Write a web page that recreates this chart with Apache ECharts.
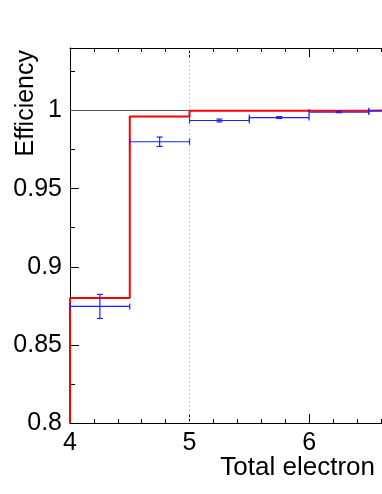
<!DOCTYPE html>
<html lang="en">
<head>
    <meta charset="UTF-8">
    <title>efficiency</title>
    <script src="https://cdn.jsdelivr.net/npm/echarts@6/dist/echarts.min.js"></script>
    <style>
        body { margin: 0; background: #fff; }
    </style>
</head>
<body>
<div id="chart_eff" style="width: 382px;height: 494px"></div>
<script>
    // bins of total electron count
    var binEdges = [4, 4.5, 5, 5.5, 6, 6.5, 7];
    // red histogram
    var redEff = [0.88, 0.9962, 0.9998, 0.9999, 0.9999, 1.0];
    // blue points with errors
    var blueEff = [0.8746, 0.980, 0.9936, 0.9955, 0.999, 0.9998];
    var blueErr = [0.0077, 0.003, 0.0009, 0.0006, 0.0004, 0.0002];
    var yTicks = ['0.8', '0.85', '0.9', '0.95', '1'];

    var yMin = 0.8, yMax = 1.04;
    var xMin = 4, xMax = 6.61;

    var redLine = [[binEdges[0], yMin]];
    for (var i = 0; i < redEff.length; i++) {
        redLine.push([binEdges[i], redEff[i]]);
    }
    redLine.push([binEdges[binEdges.length - 1], redEff[redEff.length - 1]]);

    var bluePts = [];
    for (var j = 0; j < blueEff.length; j++) {
        bluePts.push([binEdges[j], binEdges[j + 1], blueEff[j], blueErr[j]]);
    }

    function drawErr(params, api) {
        var x0 = api.value(0), x1 = api.value(1), y = api.value(2), e = api.value(3);
        var xm = (x0 + x1) / 2;
        var pL = api.coord([x0, y]), pR = api.coord([x1, y]);
        var pHi = api.coord([xm, y + e]), pLo = api.coord([xm, y - e]);
        var st = { stroke: '#1f1fff', lineWidth: 1.2 };
        var seg = function (a, b, c, d) {
            return { type: 'line', shape: { x1: a, y1: b, x2: c, y2: d }, style: st };
        };
        return {
            type: 'group',
            children: [
                seg(pL[0], pL[1], pR[0], pR[1]),
                seg(pL[0], pL[1] - 3, pL[0], pL[1] + 3),
                seg(pR[0], pR[1] - 3, pR[0], pR[1] + 3),
                seg(pHi[0], pHi[1], pLo[0], pLo[1]),
                seg(pHi[0] - 3, pHi[1], pHi[0] + 3, pHi[1]),
                seg(pLo[0] - 3, pLo[1], pLo[0] + 3, pLo[1])
            ]
        };
    }

    var font = 'Liberation Sans, Arial, sans-serif';

    var option = {
        animation: false,
        backgroundColor: '#fff',
        title: {
            text: 'Total electron',
            right: 2,
            top: 450,
            textStyle: { fontFamily: font, fontSize: 26, fontWeight: 'normal', color: '#000' }
        },
        graphic: [{
            type: 'text',
            x: 26,
            y: 50,
            rotation: Math.PI / 2,
            style: {
                text: 'Efficiency',
                font: '25px ' + font,
                fill: '#000',
                textAlign: 'right',
                textVerticalAlign: 'middle'
            }
        }],
        grid: {
            left: 70,
            top: 48,
            right: 0,
            height: 375
        },
        xAxis: [{
            type: 'value',
            min: xMin,
            max: xMax,
            interval: 1,
            position: 'bottom',
            axisLine: { lineStyle: { color: '#000', width: 1 } },
            axisTick: { inside: true, length: 9, lineStyle: { color: '#000' } },
            minorTick: { show: true, splitNumber: 5, length: 4, lineStyle: { color: '#000' } },
            axisLabel: { margin: 8, fontFamily: font, fontSize: 25, color: '#000', showMaxLabel: false },
            splitLine: { show: false }
        }, {
            type: 'value',
            min: xMin,
            max: xMax,
            interval: 1,
            position: 'top',
            axisLine: { lineStyle: { color: '#000', width: 1 } },
            axisTick: { inside: true, length: 9, lineStyle: { color: '#000' } },
            minorTick: { show: true, splitNumber: 5, length: 4, lineStyle: { color: '#000' } },
            axisLabel: { show: false },
            splitLine: { show: false }
        }],
        yAxis: {
            type: 'value',
            min: yMin,
            max: yMax,
            interval: 0.05,
            axisLine: { show: true, lineStyle: { color: '#000', width: 1 } },
            axisTick: { show: true, inside: true, length: 9, lineStyle: { color: '#000' } },
            minorTick: { show: true, splitNumber: 2, length: 5, lineStyle: { color: '#000' } },
            axisLabel: {
                margin: 8,
                fontFamily: font,
                fontSize: 25,
                color: '#000',
                showMaxLabel: false,
                formatter: function (v) {
                    var k = Math.round((v - yMin) / 0.05);
                    return yTicks[k] !== undefined ? yTicks[k] : '';
                }
            },
            splitLine: { show: false }
        },
        series: [
            {
                name: 'ref',
                type: 'line',
                data: [],
                silent: true,
                z: 1,
                markLine: {
                    silent: true,
                    z: 1,
                    symbol: ['none', 'none'],
                    label: { show: false },
                    data: [
                        { yAxis: 1, lineStyle: { color: '#555', width: 1.2, type: 'solid' } },
                        { xAxis: 5, lineStyle: { color: '#c8c8c8', width: 1, type: [2, 2] } }
                    ]
                }
            },
            {
                name: 'red',
                type: 'line',
                step: 'end',
                data: redLine,
                symbol: 'none',
                lineStyle: { color: '#ff0000', width: 2 },
                z: 5
            },
            {
                name: 'blue',
                type: 'custom',
                renderItem: drawErr,
                data: bluePts,
                encode: { x: [0, 1], y: [2] },
                z: 6
            }
        ]
    };

    var chart_eff = echarts.init(document.getElementById('chart_eff'));
    chart_eff.setOption(option);
</script>
</body>
</html>
